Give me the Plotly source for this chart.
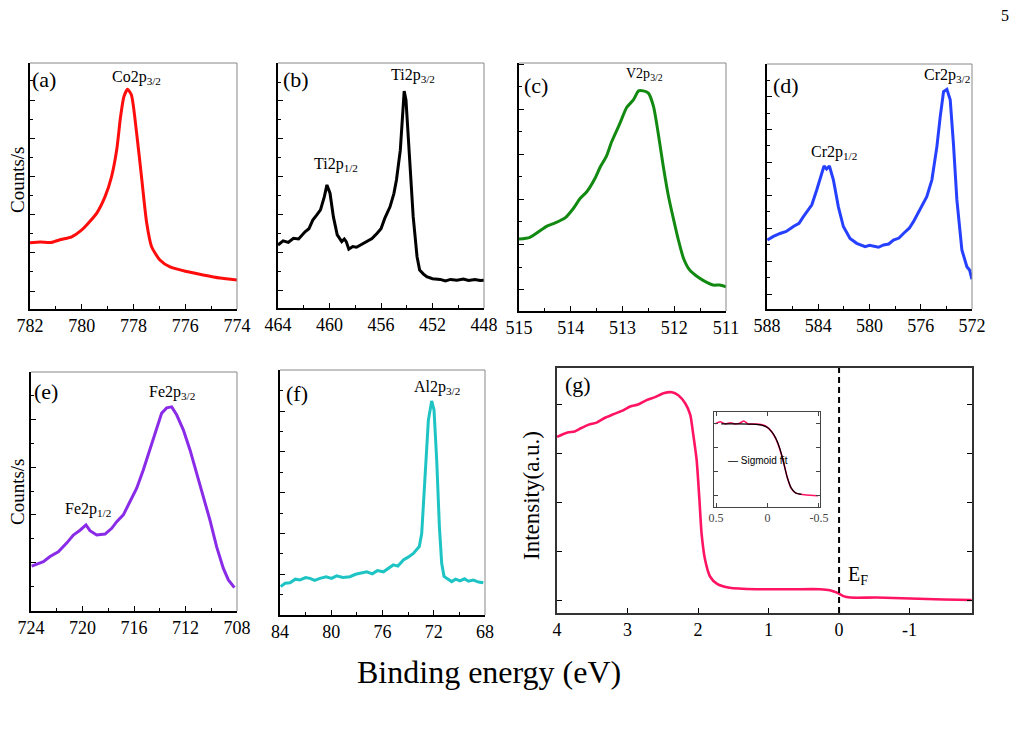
import plotly.graph_objects as go

W, H = 1020, 749
SERIF = "Liberation Serif, Times New Roman, serif"
SANS = "Liberation Sans, Arial, sans-serif"

# ---------------- data ----------------
A_X = [782.0, 781.6, 781.2, 780.8, 780.39, 780.0, 779.81, 779.42, 779.10, 778.85, 778.65, 778.50,
       778.37, 778.23, 778.08, 777.88, 777.69, 777.49, 777.30, 776.98, 776.59, 775.95, 775.31, 774.66, 774.0]
A_Y = [1.26, 1.28, 1.27, 1.35, 1.42, 1.60, 1.73, 2.04, 2.47, 2.99, 3.69, 4.56,
       5.09, 5.28, 5.13, 4.14, 2.99, 1.78, 1.16, 0.81, 0.63, 0.51, 0.42, 0.34, 0.29]

B_X = [464.0, 463.6, 463.2, 462.8, 462.4, 461.9, 461.6, 461.3, 461.0, 460.7, 460.4, 460.2, 459.96,
       459.7, 459.4, 459.05, 458.85, 458.7, 458.5, 458.2, 457.9, 457.5, 457.1, 456.7, 456.3, 456.0,
       455.7, 455.3, 455.0, 454.8, 454.5, 454.3, 454.2, 454.06, 453.8, 453.5, 453.2, 453.0, 452.7,
       452.45, 452.0, 451.4, 451.0, 450.6, 450.1, 449.6, 449.2, 448.7, 448.3, 448.0]
B_Y = [1.19, 1.30, 1.26, 1.37, 1.35, 1.54, 1.62, 1.85, 1.98, 2.12, 2.47, 2.78, 2.56,
       1.94, 1.46, 1.28, 1.35, 1.28, 1.08, 1.15, 1.13, 1.20, 1.28, 1.36, 1.50, 1.62,
       1.90, 2.20, 2.55, 2.91, 3.70, 4.76, 5.26, 5.03, 3.70, 1.94, 0.88, 0.53, 0.42,
       0.35, 0.30, 0.28, 0.24, 0.28, 0.26, 0.29, 0.25, 0.28, 0.25, 0.26]

C_X = [515.0, 514.79, 514.46, 514.30, 514.11, 513.95, 513.82, 513.69, 513.53, 513.43, 513.31,
       513.21, 513.05, 512.92, 512.79, 512.69, 512.60, 512.50, 512.40, 512.31, 512.21, 512.11,
       512.01, 511.92, 511.82, 511.70, 511.57, 511.45, 511.25, 511.12, 511.0]
C_Y = [1.12, 1.16, 1.41, 1.48, 1.59, 1.80, 2.02, 2.17, 2.47, 2.72, 2.96,
       3.28, 3.69, 4.04, 4.21, 4.41, 4.41, 4.36, 4.06, 3.47, 2.72, 2.06,
       1.54, 1.10, 0.69, 0.43, 0.30, 0.21, 0.10, 0.10, 0.06]

D_X = [587.97, 587.5, 586.98, 586.5, 585.94, 585.5, 585.16, 584.8, 584.5, 584.12, 583.73, 583.55,
       583.35, 583.13, 582.82, 582.43, 582.04, 581.52, 581.0, 580.7, 580.34, 580.0, 579.7, 579.3,
       578.9, 578.5, 578.13, 577.7, 577.35, 576.9, 576.57, 576.3, 576.05, 575.53, 575.13, 574.74,
       574.48, 574.22, 573.96, 573.7, 573.45, 573.18, 572.79, 572.4, 572.19, 572.01]
D_Y = [1.64, 1.75, 1.84, 1.90, 2.05, 2.15, 2.35, 2.55, 2.71, 3.16, 3.67, 3.89,
       3.80, 3.89, 3.47, 2.65, 2.05, 1.69, 1.54, 1.50, 1.44, 1.48, 1.46, 1.42,
       1.49, 1.52, 1.64, 1.70, 1.84, 2.00, 2.20, 2.40, 2.60, 2.96, 3.47, 4.48,
       5.39, 6.15, 6.22, 5.90, 4.58, 2.86, 1.34, 0.83, 0.73, 0.45]

E_X = [723.95, 723.04, 722.52, 721.88, 721.23, 720.71, 720.19, 719.73, 719.42, 718.9, 718.25,
       717.73, 717.34, 716.83, 716.31, 715.79, 715.28, 714.76, 714.24, 713.85, 713.46, 713.07,
       712.68, 712.17, 711.65, 711.13, 710.62, 710.1, 709.58, 709.06, 708.67, 708.2]
E_Y = [-0.07, 0.02, 0.13, 0.23, 0.41, 0.58, 0.68, 0.79, 0.67, 0.58, 0.60,
       0.72, 0.86, 1.00, 1.28, 1.56, 1.94, 2.36, 2.78, 3.13, 3.24, 3.26,
       3.09, 2.78, 2.36, 1.87, 1.38, 0.89, 0.33, -0.12, -0.36, -0.52]

F_X = [83.95, 83.6, 83.22, 82.8, 82.44, 82.0, 81.66, 81.3, 80.88, 80.4, 79.98, 79.58, 79.1, 78.54,
       78.1, 77.6, 77.23, 76.8, 76.4, 75.93, 75.55, 75.16, 74.8, 74.37, 74.0, 73.59, 73.13, 72.94,
       72.68, 72.42, 72.16, 71.98, 71.77, 71.56, 71.38, 71.2, 70.99, 70.6, 70.3, 69.95, 69.6, 69.3,
       68.91, 68.5, 68.13]
F_Y = [-0.30, -0.22, -0.21, -0.12, -0.14, -0.08, -0.10, -0.15, -0.10, -0.06, -0.10, -0.04, -0.08, -0.06,
       0.00, 0.04, 0.06, 0.01, 0.09, 0.06, 0.15, 0.23, 0.20, 0.35, 0.42, 0.51, 0.68, 1.00,
       2.39, 3.78, 4.25, 4.03, 2.80, 1.17, 0.27, -0.05, -0.10, -0.18, -0.12, -0.16, -0.11, -0.17,
       -0.14, -0.19, -0.21]

G_X = [4.0, 3.85, 3.75, 3.67, 3.55, 3.44, 3.32, 3.20, 3.08, 2.96, 2.85, 2.73, 2.61, 2.49, 2.37,
       2.28, 2.18, 2.11, 2.07, 2.02, 1.98, 1.95, 1.90, 1.83, 1.73, 1.55, 1.17, 0.65, 0.27, 0.13,
       0.03, -0.06, -0.16, -0.53, -1.01, -1.48, -1.88]
G_Y = [3.33, 3.42, 3.44, 3.50, 3.58, 3.62, 3.72, 3.79, 3.86, 3.95, 3.99, 4.08, 4.14, 4.22, 4.24,
       4.18, 4.01, 3.78, 3.40, 2.86, 2.04, 1.36, 0.82, 0.48, 0.33, 0.25, 0.22, 0.22, 0.22, 0.20,
       0.15, 0.08, 0.05, 0.05, 0.03, 0.01, 0.00]
G_TICKS = [4, 3, 2, 1, 0, -1]
G_TICKTEXT = ["4", "3", "2", "1", "0", "-1"]

INS_X = [0.51, 0.46, 0.41, 0.36, 0.32, 0.27, 0.23, 0.19, 0.10, 0.02, -0.04, -0.10, -0.15, -0.19,
         -0.23, -0.28, -0.38, -0.49]
INS_Y = [3.00, 3.09, 3.00, 3.05, 3.00, 3.03, 3.12, 3.00, 2.99, 2.91, 2.67, 2.18, 1.48, 0.77,
         0.28, 0.07, 0.00, -0.03]
FIT_X = [0.45, 0.30, 0.15, 0.05, 0.00, -0.04, -0.08, -0.12, -0.15, -0.19, -0.23, -0.27, -0.33]
FIT_Y = [3.00, 3.00, 2.99, 2.94, 2.85, 2.67, 2.40, 1.95, 1.48, 0.77, 0.30, 0.10, 0.03]
INS_TICKS = [0.5, 0, -0.5]
INS_TICKTEXT = ["0.5", "0", "-0.5"]

E_FERMI = 0.0

# ---------------- panel layout ----------------
def px2x(p):
    return p / W

def py2y(p):
    return 1 - p / H

panels = [
    dict(x=A_X, y=A_Y, c="#ff0d0d", xr=[782, 774], yr=[-0.471, 5.969], xd=(30, 237), yd=(63, 309), dt=2, mn=1, sp=True),
    dict(x=B_X, y=B_Y, c="#000000", xr=[464, 448], yr=[-0.476, 6.005], xd=(278, 484), yd=(63, 308), dt=4, mn=2, sp=False),
    dict(x=C_X, y=C_Y, c="#128a12", xr=[515, 511], yr=[-0.476, 5.029], xd=(519, 726), yd=(63, 311), dt=1, mn=0.5, sp=True),
    dict(x=D_X, y=D_Y, c="#2640ff", xr=[588, 572], yr=[-0.456, 6.991], xd=(767, 972), yd=(64, 309), dt=4, mn=2, sp=False),
    dict(x=E_X, y=E_Y, c="#8a2be8", xr=[724, 708], yr=[-1.010, 3.990], xd=(31, 237), yd=(372, 611), dt=4, mn=2, sp=False),
    dict(x=F_X, y=F_Y, c="#1ec4c4", xr=[84, 68], yr=[-0.998, 5.007], xd=(280, 485), yd=(370, 615), dt=4, mn=2, sp=False),
    dict(x=G_X, y=G_Y, c="#ff1463", xr=[4, -1.885], yr=[-0.265, 4.735], xd=(557, 972), yd=(368, 613), dt=1, mn=None, sp=True),
]

fig = go.Figure()
layout = dict(width=W, height=H, margin=dict(l=0, r=0, t=0, b=0, autoexpand=False),
              template="none",
              paper_bgcolor="white", plot_bgcolor="white", showlegend=False,
              font=dict(family=SERIF, color="black"))
shapes = []

for i, p in enumerate(panels, start=1):
    xa = "x" if i == 1 else f"x{i}"
    ya = "y" if i == 1 else f"y{i}"
    line = dict(color=p["c"], width=3 if i < 7 else 2.6)
    if p["sp"]:
        line["shape"] = "spline"
        line["smoothing"] = 0.6
    fig.add_trace(go.Scatter(x=p["x"], y=p["y"], mode="lines", line=line, xaxis=xa, yaxis=ya,
                             hoverinfo="skip"))
    xkey = "xaxis" if i == 1 else f"xaxis{i}"
    ykey = "yaxis" if i == 1 else f"yaxis{i}"
    xdict = dict(domain=[px2x(p["xd"][0]), px2x(p["xd"][1])], range=p["xr"], anchor=ya,
                 automargin=False,
                 showgrid=False, zeroline=False, showline=True, linecolor="black", linewidth=1.6,
                 ticks="inside", ticklen=5, tickwidth=1.2, tickcolor="black", dtick=p["dt"],
                 tick0=0, tickfont=dict(family=SERIF, size=18, color="black"))
    if p["mn"]:
        xdict["minor"] = dict(dtick=p["mn"], tick0=0, ticks="inside", ticklen=3, tickcolor="black",
                              tickwidth=1, showgrid=False)
    ydict = dict(domain=[py2y(p["yd"][1]), py2y(p["yd"][0])], range=p["yr"], anchor=xa,
                 automargin=False,
                 showgrid=False, zeroline=False, showline=True, linecolor="black", linewidth=1.6,
                 ticks="inside", ticklen=5, tickwidth=1.2, tickcolor="black", dtick=1, tick0=0,
                 showticklabels=False)
    if i < 7:
        ydict["minor"] = dict(dtick=0.5, tick0=0, ticks="inside", ticklen=3, tickcolor="black",
                              tickwidth=1, showgrid=False)
        shapes.append(dict(type="line", xref=f"{xa} domain", yref=f"{ya} domain", x0=0, x1=1, y0=1, y1=1,
                           line=dict(color="#888888", width=1)))
        shapes.append(dict(type="line", xref=f"{xa} domain", yref=f"{ya} domain", x0=1, x1=1, y0=0, y1=1,
                           line=dict(color="#888888", width=1)))
    else:
        xdict["mirror"] = True
        xdict["linecolor"] = "#333333"
        xdict["tickvals"] = G_TICKS
        xdict["ticktext"] = G_TICKTEXT
        ydict["mirror"] = "ticks"
        ydict["linecolor"] = "#333333"
    layout[xkey] = xdict
    layout[ykey] = ydict

shapes.append(dict(type="line", xref="x7", yref="y7 domain", x0=E_FERMI, x1=E_FERMI, y0=0, y1=1,
                   line=dict(color="black", width=2, dash="6px,4px")))

# ---------------- inset ----------------
fig.add_trace(go.Scatter(x=INS_X, y=INS_Y, mode="lines",
                         line=dict(color="#ff1463", width=1.6, shape="spline", smoothing=0.5),
                         xaxis="x8", yaxis="y8", hoverinfo="skip"))
fig.add_trace(go.Scatter(x=FIT_X, y=FIT_Y, mode="lines",
                         line=dict(color="black", width=1.2, shape="spline", smoothing=0.6),
                         xaxis="x8", yaxis="y8", hoverinfo="skip", name="Sigmoid fit"))
layout["xaxis8"] = dict(domain=[px2x(714), px2x(820)], range=[0.52, -0.51], anchor="y8", automargin=False,
                        showgrid=False, zeroline=False, showline=True, mirror="ticks", linecolor="#444444",
                        linewidth=1, ticks="inside", ticklen=4, tickcolor="#444444",
                        tickvals=INS_TICKS, ticktext=INS_TICKTEXT,
                        tickfont=dict(family=SERIF, size=12, color="#444444"))
layout["yaxis8"] = dict(domain=[py2y(507), py2y(412)], range=[-0.506, 3.502], anchor="x8", automargin=False,
                        showgrid=False, zeroline=False, showline=True, mirror="ticks", linecolor="#444444",
                        linewidth=1, ticks="inside", ticklen=4, tickcolor="#444444", dtick=1, tick0=0,
                        showticklabels=False)

# ---------------- text ----------------
ann = []
def t(text, x, y, size, xref="paper", yref="paper", xanchor="center", font=SERIF, angle=0, color="black"):
    ann.append(dict(text=text, x=x, y=y, xref=xref, yref=yref, xanchor=xanchor, yanchor="middle",
                    showarrow=False, textangle=angle, font=dict(family=font, size=size, color=color)))

for lab, cx, cy in [("(a)", 44, 79), ("(b)", 296, 79), ("(c)", 536, 85), ("(d)", 786, 85),
                    ("(e)", 46, 392), ("(f)", 297, 393), ("(g)", 578, 385)]:
    t(lab, px2x(cx), py2y(cy), 22)

t("Co2p<sub>3/2</sub>", 777.9, 0.943, 16, xref="x", yref="y domain")
t("Ti2p<sub>3/2</sub>", 453.5, 0.951, 16, xref="x2", yref="y2 domain")
t("Ti2p<sub>1/2</sub>", 459.5, 0.584, 16, xref="x2", yref="y2 domain")
t("V2p<sub>3/2</sub>", 512.58, 0.952, 14, xref="x3", yref="y3 domain")
t("Cr2p<sub>3/2</sub>", 573.94, 0.955, 16, xref="x4", yref="y4 domain")
t("Cr2p<sub>1/2</sub>", 582.77, 0.637, 16, xref="x4", yref="y4 domain")
t("Fe2p<sub>3/2</sub>", 713.05, 0.916, 16, xref="x5", yref="y5 domain")
t("Fe2p<sub>1/2</sub>", 719.57, 0.423, 16, xref="x5", yref="y5 domain")
t("Al2p<sub>3/2</sub>", 71.74, 0.927, 16, xref="x6", yref="y6 domain")
t("E<sub>F</sub>", -0.27, 0.155, 20, xref="x7", yref="y7 domain")

t("Counts/s", px2x(17), py2y(180), 19, angle=-90)
t("Counts/s", px2x(17), py2y(492), 19, angle=-90)
t("Intensity(a.u.)", px2x(532), py2y(496), 23, angle=-90)
t("Binding energy (eV)", px2x(489), py2y(672), 32)
t("5", px2x(1005), py2y(15), 16)
t("— Sigmoid fit", px2x(726), py2y(460), 10, xanchor="left", font=SANS)

layout["annotations"] = ann
layout["shapes"] = shapes
fig.update_layout(**layout)
fig.write_html("out.html")
